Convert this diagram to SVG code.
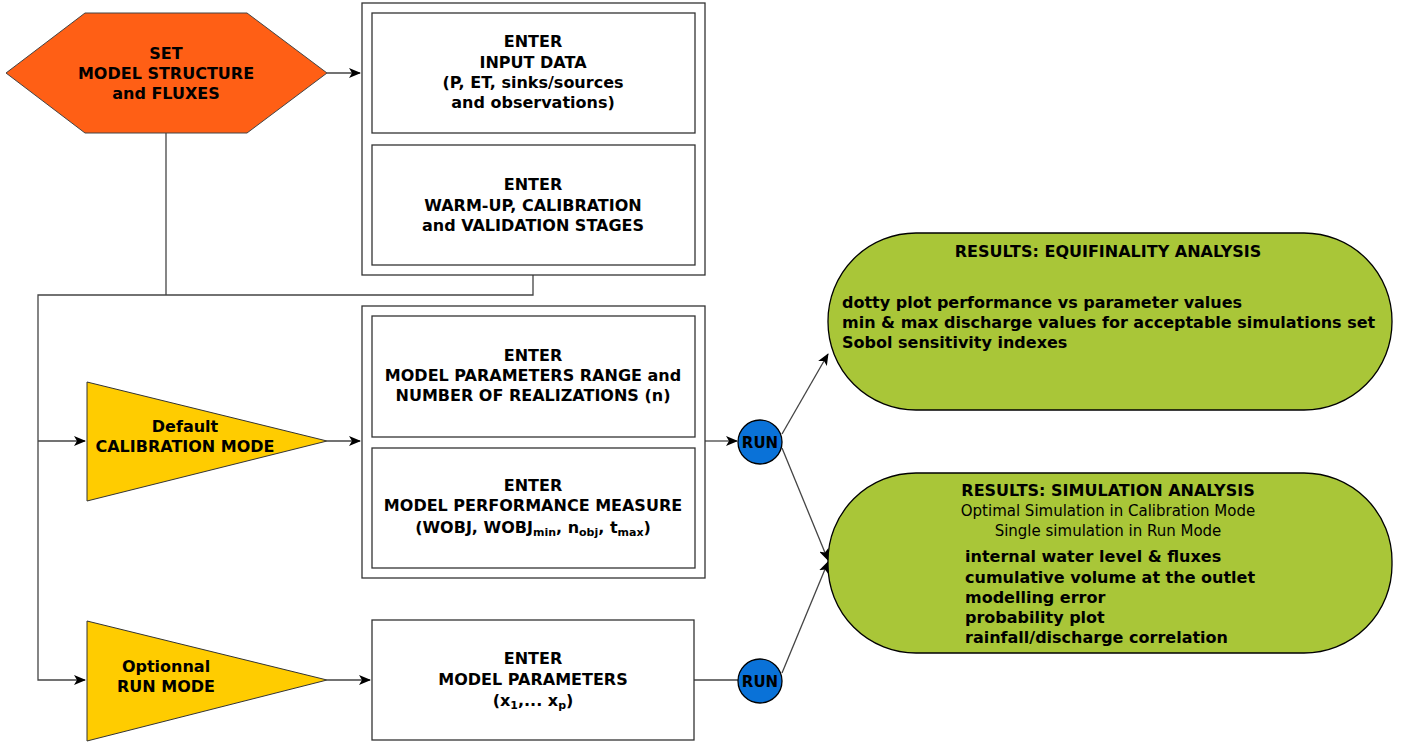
<svg xmlns="http://www.w3.org/2000/svg" width="1411" height="746" viewBox="0 0 1411 746">
<style>
text{font-family:"DejaVu Sans",Verdana,sans-serif;font-weight:bold;font-size:16px;fill:#000;text-anchor:middle}
.l{text-anchor:start}
.n{font-weight:normal;font-size:15px}
.box{fill:#fff;stroke:#333;stroke-width:1.3}
.con{fill:none;stroke:#444;stroke-width:1.3}
.sub{font-size:11px}
.run{font-size:15px}
</style>
<defs>
<marker id="ar" viewBox="0 0 12 10" refX="11" refY="5" markerWidth="12" markerHeight="10" markerUnits="userSpaceOnUse" orient="auto">
<path d="M0,0 L12,5 L0,10 L3,5 z" fill="#000"/>
</marker>
</defs>
<g id="connectors">
<line class="con" x1="327" y1="73" x2="360" y2="73" marker-end="url(#ar)"/>
<polyline class="con" points="166,133 166,295"/>
<polyline class="con" points="533,275 533,295 38,295 38,680 85,680" marker-end="url(#ar)"/>
<line class="con" x1="38" y1="441" x2="85" y2="441" marker-end="url(#ar)"/>
<line class="con" x1="327" y1="441" x2="360" y2="441" marker-end="url(#ar)"/>
<line class="con" x1="705" y1="441" x2="737" y2="441" marker-end="url(#ar)"/>
<line class="con" x1="327" y1="680" x2="370" y2="680" marker-end="url(#ar)"/>
<line class="con" x1="694" y1="680" x2="738" y2="680"/>
<line class="con" x1="782" y1="434" x2="828" y2="354" marker-end="url(#ar)"/>
<line class="con" x1="782" y1="448" x2="828" y2="560" marker-end="url(#ar)"/>
<line class="con" x1="782" y1="673" x2="828" y2="562" marker-end="url(#ar)"/>
</g>
<g id="set-model">
<polygon points="6,73 85,13 247,13 327,73 247,133 85,133" fill="#FF5F15" stroke="#444" stroke-width="1"/>
<text x="166" y="59">SET</text>
<text x="166" y="79">MODEL STRUCTURE</text>
<text x="166" y="99">and FLUXES</text>
</g>
<g id="group-input">
<rect class="box" x="362" y="3" width="343" height="272"/>
</g>
<g id="input-data">
<rect class="box" x="372" y="13" width="323" height="120"/>
<text x="533" y="47">ENTER</text>
<text x="533" y="68">INPUT DATA</text>
<text x="533" y="88">(P, ET, sinks/sources</text>
<text x="533" y="108">and observations)</text>
</g>
<g id="stages">
<rect class="box" x="372" y="145" width="323" height="120"/>
<text x="533" y="190">ENTER</text>
<text x="533" y="211">WARM-UP, CALIBRATION</text>
<text x="533" y="231">and VALIDATION STAGES</text>
</g>
<g id="calibration-mode">
<polygon points="87,382 327,441 87,501" fill="#FFCC00" stroke="#333" stroke-width="1"/>
<text x="185" y="432">Default</text>
<text x="185" y="452">CALIBRATION MODE</text>
</g>
<g id="group-calib">
<rect class="box" x="362" y="306" width="343" height="272"/>
</g>
<g id="param-range">
<rect class="box" x="372" y="316" width="323" height="121"/>
<text x="533" y="361">ENTER</text>
<text x="533" y="381">MODEL PARAMETERS RANGE and</text>
<text x="533" y="401">NUMBER OF REALIZATIONS (n)</text>
</g>
<g id="performance">
<rect class="box" x="372" y="448" width="323" height="120"/>
<text x="533" y="491">ENTER</text>
<text x="533" y="511">MODEL PERFORMANCE MEASURE</text>
<text x="533" y="533">(WOBJ, WOBJ<tspan class="sub" dy="3">min</tspan><tspan dy="-3">, n</tspan><tspan class="sub" dy="3">obj</tspan><tspan dy="-3">, t</tspan><tspan class="sub" dy="3">max</tspan><tspan dy="-3">)</tspan></text>
</g>
<g id="run1">
<circle cx="760" cy="442" r="22" fill="#0A72D8" stroke="#000" stroke-width="1.3"/>
<text class="run" x="760" y="448">RUN</text>
</g>
<g id="run-mode">
<polygon points="87,621 327,680 87,741" fill="#FFCC00" stroke="#333" stroke-width="1"/>
<text x="166" y="672">Optionnal</text>
<text x="166" y="692">RUN MODE</text>
</g>
<g id="model-params">
<rect class="box" x="372" y="620" width="322" height="120"/>
<text x="533" y="664">ENTER</text>
<text x="533" y="685">MODEL PARAMETERS</text>
<text x="533" y="706">(x<tspan class="sub" dy="3">1</tspan><tspan dy="-3">,... x</tspan><tspan class="sub" dy="3">p</tspan><tspan dy="-3">)</tspan></text>
</g>
<g id="run2">
<circle cx="760" cy="681" r="22" fill="#0A72D8" stroke="#000" stroke-width="1.3"/>
<text class="run" x="760" y="687">RUN</text>
</g>
<g id="equifinality">
<rect x="828" y="233" width="564" height="177" rx="88" ry="88" fill="#A9C638" stroke="#000" stroke-width="1.3"/>
<text x="1108" y="257">RESULTS: EQUIFINALITY ANALYSIS</text>
<text class="l" x="842" y="308">dotty plot performance vs parameter values</text>
<text class="l" x="842" y="328">min &amp; max discharge values for acceptable simulations set</text>
<text class="l" x="842" y="348">Sobol sensitivity indexes</text>
</g>
<g id="simulation">
<rect x="828" y="473" width="564" height="180" rx="88" ry="88" fill="#A9C638" stroke="#000" stroke-width="1.3"/>
<text x="1108" y="496">RESULTS: SIMULATION ANALYSIS</text>
<text class="n" x="1108" y="516">Optimal Simulation in Calibration Mode</text>
<text class="n" x="1108" y="536">Single simulation in Run Mode</text>
<text class="l" x="965" y="562">internal water level &amp; fluxes</text>
<text class="l" x="965" y="583">cumulative volume at the outlet</text>
<text class="l" x="965" y="603">modelling error</text>
<text class="l" x="965" y="623">probability plot</text>
<text class="l" x="965" y="643">rainfall/discharge correlation</text>
</g>
</svg>
